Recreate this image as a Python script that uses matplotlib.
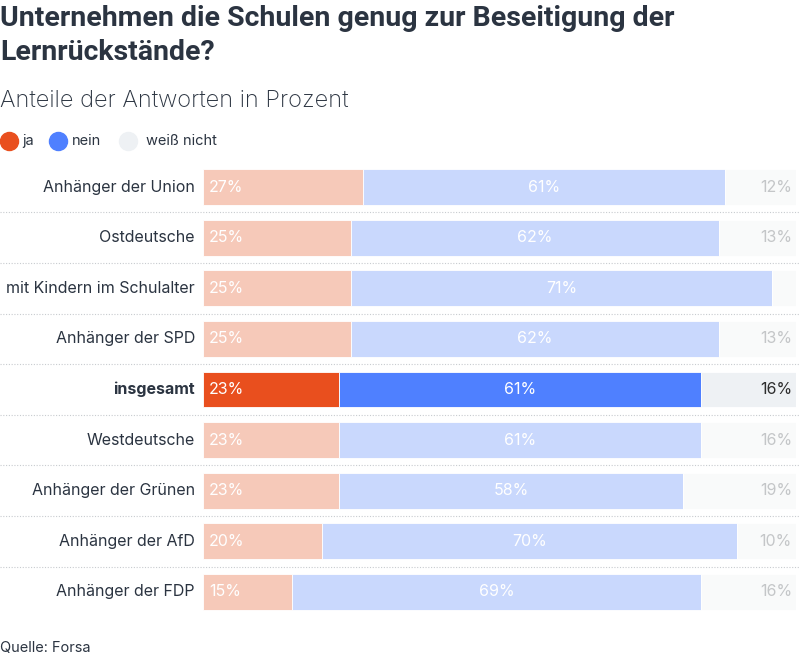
import matplotlib.pyplot as plt
from matplotlib.lines import Line2D

plt.rcParams['font.family'] = ['Inter', 'DejaVu Sans']

# data
cats = ["Anhänger der Union", "Ostdeutsche", "mit Kindern im Schulalter",
        "Anhänger der SPD", "insgesamt", "Westdeutsche",
        "Anhänger der Grünen", "Anhänger der AfD", "Anhänger der FDP"]
ja = [27, 25, 25, 25, 23, 23, 23, 20, 15]
nein = [61, 62, 71, 62, 61, 61, 58, 70, 69]
weiss = [12, 13, 4, 13, 16, 16, 19, 10, 16]
highlight = "insgesamt"

strong = ["#e94f1e", "#4f80ff", "#eef1f4"]
faded = ["#f6c9b9", "#c9d8fd", "#f9fafa"]
dark = "#2b3441"

W, H = 800, 657
fig = plt.figure(figsize=(W / 100, H / 100), dpi=100)

# bar area in pixels -> figure fractions
left_px, right_px = 203, 796
top_px, bot_px = 161.7, 617.3
ax = fig.add_axes([left_px / W, 1 - bot_px / H, (right_px - left_px) / W, (bot_px - top_px) / H])
ax.set_xlim(0, 100)
ax.set_ylim(len(cats) - 0.5, -0.5)
ax.axis('off')

px = 100 / (right_px - left_px)  # data units per pixel

for i, c in enumerate(cats):
    hl = c == highlight
    cols = strong if hl else faded
    start = 0
    for j, v in enumerate([ja[i], nein[i], weiss[i]]):
        ax.barh(i, v, left=start, height=0.71, color=cols[j], edgecolor='white', linewidth=0.6)
        if v >= 5:
            if j == 0:
                ax.text(start + 6 * px, i, f"{v}%", ha='left', va='center',
                        color='white', fontsize=11.5)
            elif j == 1:
                ax.text(start + v / 2, i, f"{v}%", ha='center', va='center',
                        color='white', fontsize=11.5)
            else:
                ax.text(100 - 4 * px, i, f"{v}%", ha='right', va='center',
                        color='#2d2d2d' if hl else '#c4c6c8', fontsize=11.5)
        start += v
    ax.text(-8 * px, i, c, ha='right', va='center', color=dark, fontsize=11.5,
            fontweight='bold' if hl else 'normal')
    if i > 0:
        ax.axhline(i - 0.5, xmin=-left_px / (right_px - left_px),
                   xmax=(W - left_px) / (right_px - left_px),
                   color='#c8cbcf', linestyle=(0, (1, 1.5)), linewidth=0.8, clip_on=False)

# title
tfont = ['Roboto', 'DejaVu Sans']
t1 = fig.text(0, 1 - 18 / H, "Unternehmen die Schulen genug zur Beseitigung der",
              fontsize=20.5, fontweight='bold', family=tfont,
              color=dark, va='center', ha='left')
t2 = fig.text(0, 1 - 52 / H, "Lernrückstände?",
              fontsize=20.5, fontweight='bold', family=tfont,
              color=dark, va='center', ha='left')

fig.text(0, 1 - 101 / H, "Anteile der Antworten in Prozent", fontsize=17,
         fontweight='light', color=dark, va='center', ha='left')

# legend
leg = [("ja", 9, 22), ("nein", 58, 72), ("weiß nicht", 128, 146)]
for k, (lab, cx, tx) in enumerate(leg):
    fig.add_artist(Line2D([cx / W], [1 - 141 / H], marker='o', markersize=13,
                          color=strong[k], transform=fig.transFigure))
    fig.text(tx / W, 1 - 141 / H, lab, fontsize=10.5, color=dark, va='center', ha='left')

fig.text(0, 1 - 648 / H, "Quelle: Forsa", fontsize=10.5, color=dark, va='center', ha='left')

fig.savefig("out.png", dpi=100, facecolor='white')
